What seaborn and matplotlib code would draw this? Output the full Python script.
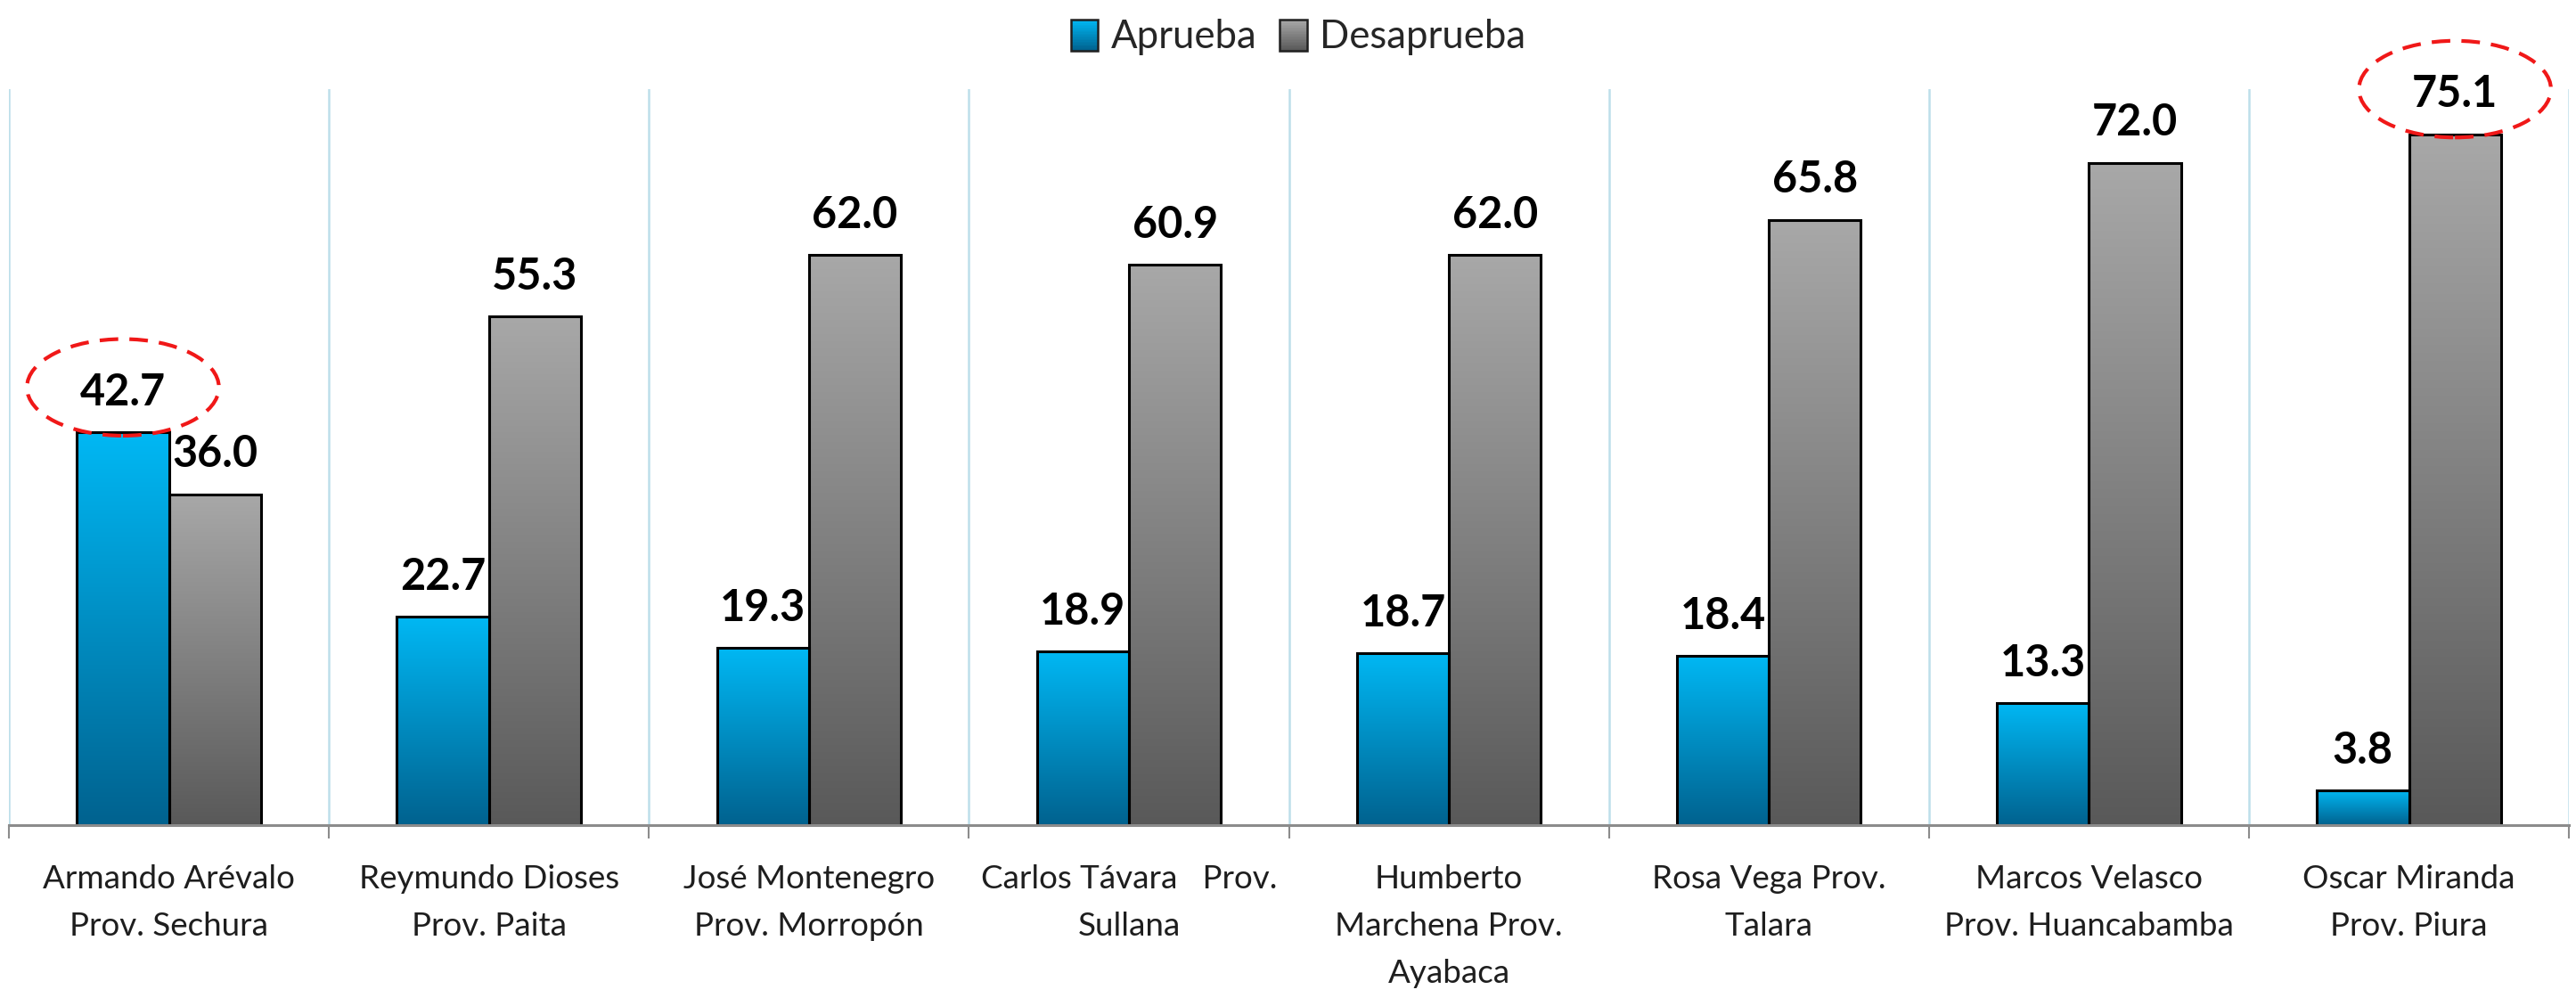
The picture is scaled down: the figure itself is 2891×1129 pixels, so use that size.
import numpy as np
import pandas as pd
import seaborn as sns
import matplotlib.pyplot as plt
from matplotlib.colors import LinearSegmentedColormap, to_rgb
from matplotlib.patches import Ellipse, Rectangle
from matplotlib.legend_handler import HandlerBase

# datos
candidatos = [
    "Armando Arévalo\nProv. Sechura",
    "Reymundo Dioses\nProv. Paita",
    "José Montenegro\nProv. Morropón",
    "Carlos Távara   Prov.\nSullana",
    "Humberto\nMarchena Prov.\nAyabaca",
    "Rosa Vega Prov.\nTalara",
    "Marcos Velasco\nProv. Huancabamba",
    "Oscar Miranda\nProv. Piura",
]
aprueba = [42.7, 22.7, 19.3, 18.9, 18.7, 18.4, 13.3, 3.8]
desaprueba = [36.0, 55.3, 62.0, 60.9, 62.0, 65.8, 72.0, 75.1]
series = ["Aprueba", "Desaprueba"]

# colores degradado (arriba, abajo)
grad_colors = {
    "Aprueba": ("#00b8f4", "#00628f"),
    "Desaprueba": ("#a8a8a8", "#595959"),
}

df = pd.DataFrame({
    "candidato": candidatos * 2,
    "valor": aprueba + desaprueba,
    "opinion": [series[0]] * len(aprueba) + [series[1]] * len(desaprueba),
})

sns.set_style("white")
plt.rcParams["font.family"] = ["Lato", "DejaVu Sans"]

fig = plt.figure(figsize=(28.91, 11.29), dpi=100)
ax = fig.add_axes([0.00346, 0.1794, 0.9938, 0.732])

sns.barplot(
    data=df, x="candidato", y="valor", hue="opinion",
    palette={s: grad_colors[s][0] for s in series},
    width=0.575, edgecolor="black", linewidth=2.2,
    legend=False, ax=ax, zorder=3,
)

# degradado vertical dentro de cada barra
grad = np.linspace(0, 1, 256).reshape(-1, 1)
for cont, s in zip(ax.containers, series):
    top_c, bot_c = grad_colors[s]
    cmap = LinearSegmentedColormap.from_list(s, [bot_c, top_c])
    for bar in cont:
        x0, w, h = bar.get_x(), bar.get_width(), bar.get_height()
        ax.imshow(grad, extent=[x0, x0 + w, 0, h], origin="lower", cmap=cmap,
                  aspect="auto", zorder=2.5, interpolation="bilinear")
        bar.set_facecolor("none")
    ax.bar_label(cont, fmt="%.1f", padding=16, fontsize=35,
                 fontweight="bold", color="black")

ax.set_xlim(-0.5, len(candidatos) - 0.5)
ax.set_ylim(0, 80)

# resaltar los maximos de cada serie
for cont, vals in zip(ax.containers, [aprueba, desaprueba]):
    bar = cont[int(np.argmax(vals))]
    cx = bar.get_x() + bar.get_width() / 2
    el = Ellipse((cx, bar.get_height() + 4.9), 0.6, 10.5, fill=False,
                 edgecolor="#f01818", lw=3, linestyle=(0, (5, 3)),
                 clip_on=False, zorder=5)
    ax.add_patch(el)

# ejes
ax.set_xlabel("")
ax.set_ylabel("")
ax.set_yticks([])
ax.set_xticks(range(len(candidatos)))
ax.set_xticklabels(candidatos, fontsize=26.5, color="#1e1e1e", linespacing=1.75)
ax.set_xticks(np.arange(-0.5, len(candidatos)), minor=True)
ax.tick_params(axis="x", which="major", length=0, pad=31)
ax.tick_params(axis="x", which="minor", length=11, width=1.5, color="#8c8c8c",
               direction="out", bottom=True)
ax.grid(False)
ax.grid(which="minor", axis="x", color="#bddfea", lw=1.8, zorder=0)
for side in ["top", "left", "right"]:
    ax.spines[side].set_visible(False)
ax.spines["bottom"].set_color("#8c8c8c")
ax.spines["bottom"].set_linewidth(2.2)
ax.spines["bottom"].set_zorder(4)


class GradHandler(HandlerBase):
    def __init__(self, top, bot):
        super().__init__()
        self.top, self.bot = np.array(to_rgb(top)), np.array(to_rgb(bot))

    def create_artists(self, legend, orig, xd, yd, width, height, fontsize, trans):
        arts = []
        n = 24
        for i in range(n):
            c = self.bot + (self.top - self.bot) * i / (n - 1)
            arts.append(Rectangle((-xd, -yd + height * i / n), width, height / n * 1.05,
                                  facecolor=c, edgecolor="none", transform=trans))
        arts.append(Rectangle((-xd, -yd), width, height, facecolor="none",
                              edgecolor="#202020", lw=1.8, transform=trans))
        return arts


handles = [Rectangle((0, 0), 1, 1, label=s) for s in series]
fig.legend(
    handles=handles, labels=series, loc="center",
    bbox_to_anchor=(1457 / 2891, 1 - 42 / 1129), ncol=2, frameon=False,
    fontsize=31.5, handlelength=0.7, handleheight=0.85, handletextpad=0.32,
    columnspacing=0.6,
    handler_map={h: GradHandler(*grad_colors[s]) for h, s in zip(handles, series)},
)

fig.savefig("out.png", dpi=100, facecolor="white")
